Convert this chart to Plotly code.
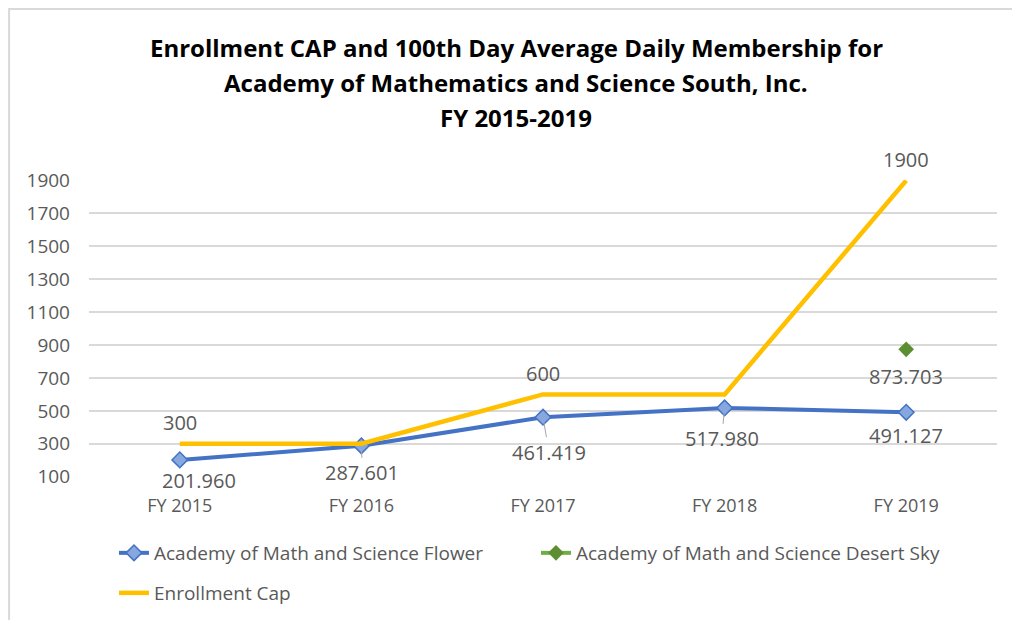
import plotly.graph_objects as go

# chart data
categories = ["FY 2015", "FY 2016", "FY 2017", "FY 2018", "FY 2019"]
flower = [201.960, 287.601, 461.419, 517.980, 491.127]
desert_sky = [None, None, None, None, 873.703]
enrollment_cap = [300, 300, 600, 600, 1900]
cap_labels = ["300", "", "600", "", "1900"]
y_ticks = list(range(100, 2000, 200))
title_lines = [
    "Enrollment CAP and 100th Day Average Daily Membership for",
    "Academy of Mathematics and Science South, Inc.",
    "FY 2015-2019",
]

FONT = "Open Sans"
GRAY = "#595959"
LABEL_FONT = dict(size=20, color=GRAY, family=FONT)

fig = go.Figure()

fig.add_trace(go.Scatter(
    x=categories, y=flower,
    name="Academy of Math and Science Flower",
    mode="lines+markers",
    line=dict(color="#4472C4", width=4),
    marker=dict(symbol="diamond", size=12, color="#86A8DE",
                line=dict(color="#4472C4", width=1.5)),
    legend="legend",
))

fig.add_trace(go.Scatter(
    x=categories, y=desert_sky,
    name="Academy of Math and Science Desert Sky",
    mode="lines+markers",
    line=dict(color="#70AD47", width=4),
    marker=dict(symbol="diamond", size=12, color="#5E8E32"),
    legend="legend",
))

fig.add_trace(go.Scatter(
    x=categories, y=enrollment_cap,
    name="Enrollment Cap",
    mode="lines",
    line=dict(color="#FFC000", width=4.5),
    legend="legend2",
))

# data labels (label offsets in px, and whether Excel drew a leader line)
flower_offsets = [(19, 21), (1, 27), (6, 35), (-3, 31), (0, 23)]
flower_leaders = [False, True, True, True, False]
for cat, v, (dx, dy), lead in zip(categories, flower, flower_offsets, flower_leaders):
    if lead:
        fig.add_annotation(x=cat, y=v, text=f"{v:.3f}", showarrow=True,
                           ax=dx, ay=dy, arrowhead=0, arrowwidth=1,
                           arrowcolor="#A6A6A6", standoff=4, font=LABEL_FONT)
    else:
        fig.add_annotation(x=cat, y=v, text=f"{v:.3f}", showarrow=False,
                           xshift=dx, yshift=-dy, font=LABEL_FONT)
for cat, v in zip(categories, desert_sky):
    if v is not None:
        fig.add_annotation(x=cat, y=v, text=f"{v:.3f}", showarrow=False,
                           yshift=-27, font=LABEL_FONT)
for cat, v, lab in zip(categories, enrollment_cap, cap_labels):
    if lab:
        fig.add_annotation(x=cat, y=v, text=lab, showarrow=False,
                           yshift=21, font=LABEL_FONT)

# title, one annotation per line for Excel-like line spacing
for i, line in enumerate(title_lines):
    fig.add_annotation(
        xref="paper", yref="paper", x=0.4703, y=1.4478 - i * 35 / 297,
        text=f"<b>{line}</b>", showarrow=False,
        xanchor="center", yanchor="middle",
        font=dict(family=FONT, size=24, color="black"),
    )

fig.update_layout(
    width=1012, height=620,
    margin=dict(l=89, r=15, t=180, b=143, autoexpand=False),
    paper_bgcolor="white",
    plot_bgcolor="white",
    font=dict(family=FONT, color=GRAY),
    xaxis=dict(
        type="category",
        range=[-0.5, 4.5],
        showgrid=False,
        zeroline=False,
        showline=False,
        tickfont=dict(size=18, color=GRAY, family=FONT),
        ticklabelstandoff=16,
    ),
    yaxis=dict(
        range=[98, 1903],
        tickvals=y_ticks,
        showgrid=True,
        gridcolor="#D9D9D9",
        gridwidth=1.5,
        zeroline=False,
        showline=False,
        tickfont=dict(size=19, color=GRAY, family=FONT),
        ticklabelstandoff=18,
    ),
    legend=dict(
        orientation="h",
        x=0.0275, xanchor="left",
        yref="container", y=1 - 553 / 620, yanchor="middle",
        entrywidth=377,
        font=dict(size=19, color=GRAY, family=FONT),
        itemwidth=30,
    ),
    legend2=dict(
        orientation="h",
        x=0.0275, xanchor="left",
        yref="container", y=1 - 593 / 620, yanchor="middle",
        font=dict(size=19, color=GRAY, family=FONT),
        itemwidth=30,
    ),
)

# outer chart border
fig.add_shape(
    type="rect", xref="paper", yref="paper",
    x0=-0.088, x1=1.2, y0=-1.0, y1=1.576,
    line=dict(color="#D9D9D9", width=2),
    fillcolor="rgba(0,0,0,0)",
    layer="below",
)

fig.write_html("out.html", config={"displayModeBar": False},
               post_script="document.body.style.margin='0px';")
